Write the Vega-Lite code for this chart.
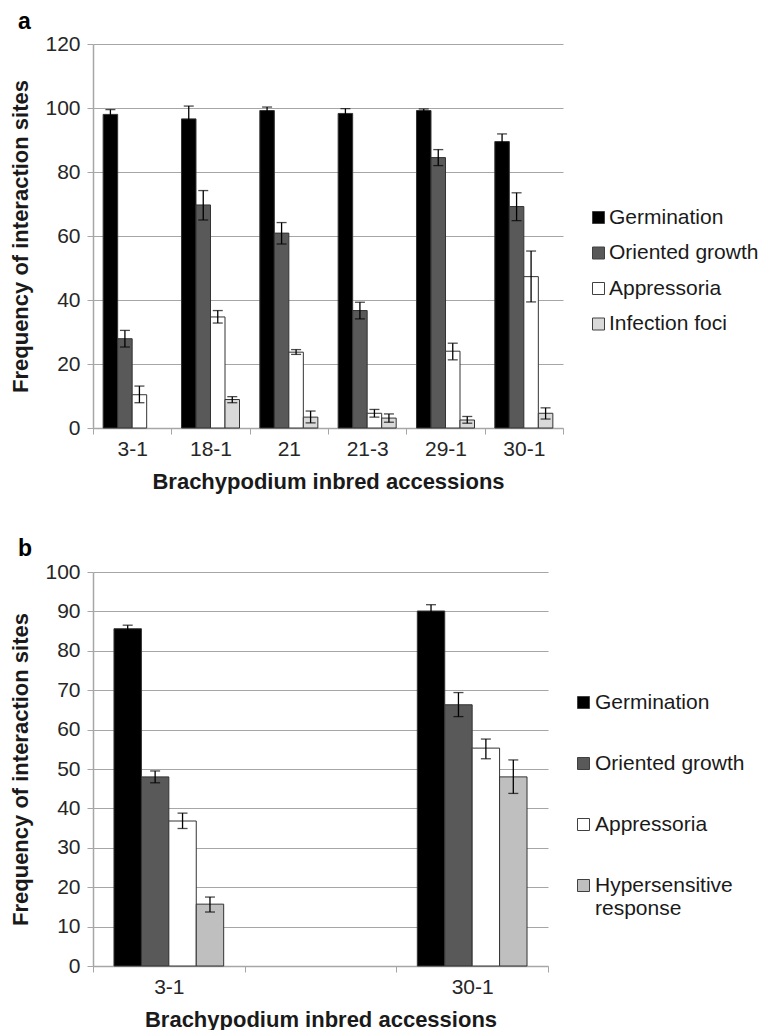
{
  "$schema": "https://vega.github.io/schema/vega-lite/v6.json",
  "background": "white",
  "padding": {"left": 9, "top": 11, "right": 5, "bottom": 0},
  "spacing": 46,
  "config": {
    "font": "Liberation Sans",
    "view": {"stroke": null},
    "axis": {
      "labelFont": "Liberation Sans", "labelFontSize": 21, "labelColor": "#262626",
      "titleFont": "Liberation Sans", "titleFontSize": 22, "titleFontWeight": "bold", "titleColor": "#1a1a1a",
      "domainColor": "#a6a6a6", "tickColor": "#a6a6a6", "gridColor": "#a6a6a6", "tickSize": 6, "domainWidth": 1.5, "gridWidth": 1.2
    },
    "legend": {"labelFont": "Liberation Sans", "labelFontSize": 21, "labelColor": "#1a1a1a"},
    "title": {"font": "Liberation Sans", "fontSize": 23, "fontWeight": "bold", "color": "#000", "anchor": "start", "frame": "group"}
  },
  "datasets": {
    "a": [
      {"acc": "3-1", "stage": "Germination", "mean": 98.0, "lo": 96.5, "hi": 99.5},
      {"acc": "3-1", "stage": "Oriented growth", "mean": 27.9, "lo": 25.3, "hi": 30.5},
      {"acc": "3-1", "stage": "Appressoria", "mean": 10.4, "lo": 7.9, "hi": 13.1},
      {"acc": "18-1", "stage": "Germination", "mean": 96.6, "lo": 92.8, "hi": 100.6},
      {"acc": "18-1", "stage": "Oriented growth", "mean": 69.7, "lo": 65.0, "hi": 74.2},
      {"acc": "18-1", "stage": "Appressoria", "mean": 34.7, "lo": 32.8, "hi": 36.7},
      {"acc": "18-1", "stage": "Infection foci", "mean": 8.9, "lo": 7.9, "hi": 9.8},
      {"acc": "21", "stage": "Germination", "mean": 99.2, "lo": 98.3, "hi": 100.3},
      {"acc": "21", "stage": "Oriented growth", "mean": 60.9, "lo": 57.5, "hi": 64.2},
      {"acc": "21", "stage": "Appressoria", "mean": 23.7, "lo": 23.0, "hi": 24.5},
      {"acc": "21", "stage": "Infection foci", "mean": 3.4, "lo": 1.6, "hi": 5.3},
      {"acc": "21-3", "stage": "Germination", "mean": 98.3, "lo": 96.8, "hi": 99.8},
      {"acc": "21-3", "stage": "Oriented growth", "mean": 36.7, "lo": 34.1, "hi": 39.3},
      {"acc": "21-3", "stage": "Appressoria", "mean": 4.6, "lo": 3.4, "hi": 5.8},
      {"acc": "21-3", "stage": "Infection foci", "mean": 3.1, "lo": 1.8, "hi": 4.4},
      {"acc": "29-1", "stage": "Germination", "mean": 99.2, "lo": 98.7, "hi": 99.7},
      {"acc": "29-1", "stage": "Oriented growth", "mean": 84.5, "lo": 82.0, "hi": 87.0},
      {"acc": "29-1", "stage": "Appressoria", "mean": 24.0, "lo": 21.3, "hi": 26.5},
      {"acc": "29-1", "stage": "Infection foci", "mean": 2.5, "lo": 1.5, "hi": 3.6},
      {"acc": "30-1", "stage": "Germination", "mean": 89.5, "lo": 87.1, "hi": 91.9},
      {"acc": "30-1", "stage": "Oriented growth", "mean": 69.2, "lo": 64.8, "hi": 73.5},
      {"acc": "30-1", "stage": "Appressoria", "mean": 47.3, "lo": 39.4, "hi": 55.3},
      {"acc": "30-1", "stage": "Infection foci", "mean": 4.6, "lo": 2.8, "hi": 6.3}
    ],
    "b": [
      {"acc": "3-1", "stage": "Germination", "mean": 85.6, "lo": 84.8, "hi": 86.5},
      {"acc": "3-1", "stage": "Oriented growth", "mean": 48.0, "lo": 46.5, "hi": 49.5},
      {"acc": "3-1", "stage": "Appressoria", "mean": 36.8, "lo": 34.9, "hi": 38.8},
      {"acc": "3-1", "stage": "Hypersensitive response", "mean": 15.7, "lo": 13.7, "hi": 17.5},
      {"acc": "30-1", "stage": "Germination", "mean": 90.1, "lo": 88.6, "hi": 91.7},
      {"acc": "30-1", "stage": "Oriented growth", "mean": 66.3, "lo": 63.3, "hi": 69.4},
      {"acc": "30-1", "stage": "Appressoria", "mean": 55.3, "lo": 52.6, "hi": 57.6},
      {"acc": "30-1", "stage": "Hypersensitive response", "mean": 48.0, "lo": 43.8, "hi": 52.3}
    ]
  },
  "resolve": {"legend": {"color": "independent"}, "scale": {"color": "independent", "x": "independent", "y": "independent", "xOffset": "independent"}},
  "vconcat": [
    {
      "title": {"text": "a", "dx": -75, "offset": -19, "baseline": "alphabetic"},
      "width": 470,
      "height": 384,
      "data": {"name": "a"},
      "encoding": {
        "x": {"field": "acc", "type": "nominal", "sort": null,
          "scale": {"domain": ["3-1", "18-1", "21", "21-3", "29-1", "30-1"], "paddingInner": 0, "paddingOuter": 0},
          "axis": {"title": "Brachypodium inbred accessions", "labelAngle": 0, "tickBand": "extent", "labelPadding": 4, "titlePadding": 12}},
        "xOffset": {"field": "stage", "type": "nominal",
          "scale": {"domain": ["Germination", "Oriented growth", "Appressoria", "Infection foci"], "paddingInner": 0, "paddingOuter": 0.7}}
      },
      "layer": [
        {
          "mark": {"type": "bar", "stroke": "#333333", "strokeWidth": 1},
          "encoding": {
            "y": {"field": "mean", "type": "quantitative",
              "scale": {"domain": [0, 120], "nice": false},
              "axis": {"title": "Frequency of interaction sites", "values": [0, 20, 40, 60, 80, 100, 120], "tickCount": 20, "grid": true, "labelPadding": 7, "titlePadding": 12}},
            "color": {"field": "stage", "type": "nominal",
              "scale": {"domain": ["Germination", "Oriented growth", "Appressoria", "Infection foci"], "range": ["#000000", "#595959", "#ffffff", "#d9d9d9"]},
              "legend": {"title": null, "orient": "none", "legendX": 495, "legendY": 163, "symbolType": "square", "symbolSize": 144, "symbolStrokeColor": "#404040", "symbolStrokeWidth": 1, "rowPadding": 13.5, "labelOffset": 0}}
          }
        },
        {
          "mark": {"type": "rule", "color": "#000", "strokeWidth": 1.3},
          "encoding": {"y": {"field": "lo", "type": "quantitative", "axis": {"title": "Frequency of interaction sites", "values": [0, 20, 40, 60, 80, 100, 120], "tickCount": 20, "grid": true, "labelPadding": 7, "titlePadding": 12}}, "y2": {"field": "hi"}}
        },
        {
          "mark": {"type": "tick", "color": "#000", "thickness": 1.3, "size": 10},
          "encoding": {"y": {"field": "lo", "type": "quantitative", "axis": {"title": "Frequency of interaction sites", "values": [0, 20, 40, 60, 80, 100, 120], "tickCount": 20, "grid": true, "labelPadding": 7, "titlePadding": 12}}}
        },
        {
          "mark": {"type": "tick", "color": "#000", "thickness": 1.3, "size": 10},
          "encoding": {"y": {"field": "hi", "type": "quantitative", "axis": {"title": "Frequency of interaction sites", "values": [0, 20, 40, 60, 80, 100, 120], "tickCount": 20, "grid": true, "labelPadding": 7, "titlePadding": 12}}}
        }
      ]
    },
    {
      "title": {"text": "b", "dx": -75, "offset": -18, "baseline": "alphabetic"},
      "width": 455,
      "height": 394,
      "data": {"name": "b"},
      "encoding": {
        "x": {"field": "acc", "type": "nominal", "sort": null,
          "scale": {"domain": ["3-1", " ", "30-1"], "paddingInner": 0, "paddingOuter": 0},
          "axis": {"title": "Brachypodium inbred accessions", "labelAngle": 0, "tickBand": "extent", "labelPadding": 4, "titlePadding": 12}},
        "xOffset": {"field": "stage", "type": "nominal",
          "scale": {"domain": ["Germination", "Oriented growth", "Appressoria", "Hypersensitive response"], "paddingInner": 0, "paddingOuter": 0.765}}
      },
      "layer": [
        {
          "mark": {"type": "bar", "stroke": "#333333", "strokeWidth": 1},
          "encoding": {
            "y": {"field": "mean", "type": "quantitative",
              "scale": {"domain": [0, 100], "nice": false},
              "axis": {"title": "Frequency of interaction sites", "values": [0, 10, 20, 30, 40, 50, 60, 70, 80, 90, 100], "tickCount": 20, "labelOverlap": false, "grid": true, "labelPadding": 7, "titlePadding": 12}},
            "color": {"field": "stage", "type": "nominal",
              "scale": {"domain": ["Germination", "Oriented growth", "Appressoria", "Hypersensitive response"], "range": ["#000000", "#595959", "#ffffff", "#bfbfbf"]},
              "legend": {"title": null, "orient": "none", "legendX": 480, "legendY": 120, "symbolType": "square", "symbolSize": 144, "symbolStrokeColor": "#404040", "symbolStrokeWidth": 1, "rowPadding": 39, "labelOffset": 1,
                "labelExpr": "datum.label == 'Hypersensitive response' ? ['Hypersensitive', 'response'] : datum.label"}}
          }
        },
        {
          "mark": {"type": "rule", "color": "#000", "strokeWidth": 1.3},
          "encoding": {"y": {"field": "lo", "type": "quantitative", "axis": {"title": "Frequency of interaction sites", "values": [0, 10, 20, 30, 40, 50, 60, 70, 80, 90, 100], "tickCount": 20, "labelOverlap": false, "grid": true, "labelPadding": 7, "titlePadding": 12}}, "y2": {"field": "hi"}}
        },
        {
          "mark": {"type": "tick", "color": "#000", "thickness": 1.3, "size": 10},
          "encoding": {"y": {"field": "lo", "type": "quantitative", "axis": {"title": "Frequency of interaction sites", "values": [0, 10, 20, 30, 40, 50, 60, 70, 80, 90, 100], "tickCount": 20, "labelOverlap": false, "grid": true, "labelPadding": 7, "titlePadding": 12}}}
        },
        {
          "mark": {"type": "tick", "color": "#000", "thickness": 1.3, "size": 10},
          "encoding": {"y": {"field": "hi", "type": "quantitative", "axis": {"title": "Frequency of interaction sites", "values": [0, 10, 20, 30, 40, 50, 60, 70, 80, 90, 100], "tickCount": 20, "labelOverlap": false, "grid": true, "labelPadding": 7, "titlePadding": 12}}}
        }
      ]
    }
  ]
}
